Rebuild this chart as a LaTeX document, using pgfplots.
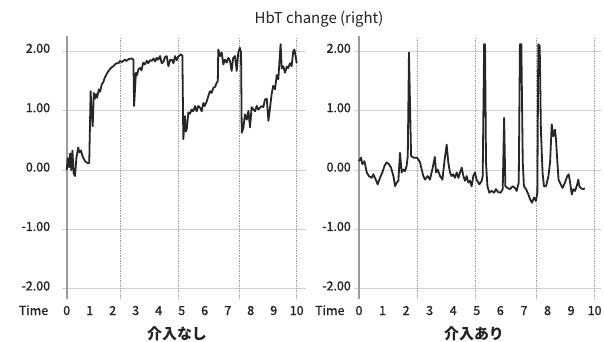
\documentclass[border=0pt]{standalone}
\usepackage{pgfplots}
\pgfplotsset{compat=1.18}
\usepackage{fontspec}
\setmainfont{Noto Sans CJK JP}
\newfontfamily\medfont{Noto Sans CJK JP}[FakeBold=1.2]
\definecolor{txt}{HTML}{222222}
\definecolor{ln}{HTML}{262626}
\definecolor{gridc}{HTML}{D2D2D2}
\definecolor{axc}{HTML}{9A9A9A}
\definecolor{dashc}{HTML}{A0A0A0}
\tikzset{
 vline/.style={dashc, dash pattern=on 1.5bp off 1bp, line width=0.8bp},
 yline/.style={axc, line width=1.8bp},
 curve/.style={ln, line width=1.8bp, line join=round},
}
\pgfplotsset{
 panel/.style={scale only axis, height=262.5bp, ymin=-2.17, ymax=2.25, xmin=-0.2,
   axis line style={draw=none}, tick style={draw=none},
   ytick={-2,-1,0,1,2}, yticklabels={-2.00,-1.00,0.00,1.00,2.00},
   xtick={0,1,2,3,4,5,6,7,8,9,10}, xticklabels={0,1,2,3,4,5,6,7,8,9,10},
   ymajorgrids, major grid style={gridc, line width=0.9bp},
   ticklabel style={font=\medfont\fontsize{12.5}{14}\selectfont, text=txt},
   xticklabel style={anchor=base, yshift=-16bp},
   yticklabel style={anchor=east, yshift=3bp},
   anchor=south west, clip=false},
}
\begin{document}
\begin{tikzpicture}
\path[use as bounding box] (0,0) rectangle (604bp,342bp);
\node[text=txt, font=\fontsize{15}{17}\selectfont] at (319bp,322.5bp) {HbT change (right)};
\node[text=txt, anchor=base east, font=\medfont\fontsize{12.5}{14}\selectfont] at (51.7bp,27bp) {Time};
\node[text=txt, anchor=base east, font=\medfont\fontsize{12.5}{14}\selectfont] at (348bp,27bp) {Time};
\node[text=txt, font=\fontsize{15}{17}\selectfont\bfseries] at (177bp,8bp) {介入なし};
\node[text=txt, font=\fontsize{15}{17}\selectfont\bfseries] at (474bp,8bp) {介入あり};

\begin{axis}[panel, at={(62.1bp,43bp)}, width=243.8bp, xmax=10.4,
  yticklabel style={xshift=-8.5bp}]
\draw[yline] (0,-2.17) -- (0,2.25);
\draw[vline] (2.35,-2.17) -- (2.35,2.25);
\draw[vline] (4.87,-2.17) -- (4.87,2.25);
\draw[vline] (7.49,-2.17) -- (7.49,2.25);
\draw[vline] (10,-2.17) -- (10,2.25);
\addplot[curve] coordinates {
(0.0,0.0) (0.05,0.2) (0.1,0.05) (0.15,0.28) (0.2,0.0) (0.25,0.33) (0.3,-0.05)
(0.36,-0.1) (0.42,0.2) (0.5,0.38) (0.55,0.3) (0.62,0.33) (0.7,0.22) (0.8,0.15)
(0.9,0.12) (0.98,0.12) (1.04,1.33) (1.08,1.0) (1.13,0.74) (1.18,1.3) (1.22,1.2)
(1.28,1.28) (1.32,1.22) (1.4,1.36) (1.45,1.32) (1.52,1.44) (1.59,1.48) (1.66,1.56)
(1.74,1.62) (1.8,1.66) (1.88,1.7) (1.95,1.73) (2.03,1.75) (2.1,1.78) (2.17,1.8)
(2.25,1.8) (2.32,1.84) (2.4,1.82) (2.53,1.86) (2.6,1.84) (2.7,1.87) (2.83,1.88)
(2.9,1.86) (2.93,1.08) (3.01,1.64) (3.06,1.6) (3.12,1.7) (3.19,1.72) (3.25,1.68)
(3.33,1.81) (3.4,1.78) (3.48,1.84) (3.55,1.8) (3.62,1.85) (3.7,1.84) (3.78,1.88)
(3.85,1.83) (3.91,1.89) (3.98,1.86) (4.06,1.92) (4.13,1.8) (4.2,1.82) (4.27,1.9)
(4.35,1.92) (4.42,1.75) (4.5,1.86) (4.57,1.86) (4.64,1.8) (4.71,1.92) (4.78,1.85)
(4.85,1.91) (4.96,1.95) (5.03,1.93) (5.07,0.52) (5.14,0.91) (5.18,0.65) (5.22,0.69)
(5.29,0.97) (5.36,0.95) (5.43,1.02) (5.5,0.99) (5.58,1.08) (5.65,0.99) (5.72,1.08)
(5.8,1.05) (5.87,0.99) (5.94,1.13) (6.0,1.08) (6.09,1.16) (6.16,1.25) (6.23,1.33)
(6.3,1.3) (6.38,1.39) (6.45,1.4) (6.52,1.47) (6.57,1.5) (6.59,2.03) (6.67,1.92)
(6.74,1.98) (6.81,1.78) (6.88,1.86) (6.96,1.81) (7.03,1.89) (7.1,1.84) (7.17,1.67)
(7.24,1.89) (7.32,1.92) (7.39,1.67) (7.46,1.98) (7.53,2.06) (7.58,1.98) (7.61,0.63)
(7.68,0.71) (7.75,0.94) (7.83,0.85) (7.9,1.0) (7.97,0.72) (8.04,1.06) (8.12,1.02)
(8.19,0.99) (8.26,1.08) (8.33,1.02) (8.4,1.05) (8.48,1.08) (8.55,1.06) (8.62,1.19)
(8.7,1.2) (8.77,0.83) (8.84,1.05) (8.91,1.28) (8.98,1.42) (9.06,1.36) (9.13,1.6)
(9.2,1.53) (9.3,2.12) (9.35,1.71) (9.42,1.75) (9.49,1.64) (9.57,1.74) (9.63,1.72)
(9.71,1.8) (9.78,1.75) (9.85,2.0) (9.9,2.03) (9.96,1.9) (10.0,1.8)
};
\end{axis}

\begin{axis}[panel, at={(354.3bp,43bp)}, width=246.2bp, xmax=10.25]
\draw[yline] (0,-2.17) -- (0,2.25);
\draw[vline] (2.46,-2.17) -- (2.46,2.25);
\draw[vline] (4.93,-2.17) -- (4.93,2.25);
\draw[vline] (7.53,-2.17) -- (7.53,2.25);
\draw[vline] (10,-2.17) -- (10,2.25);
\addplot[curve] coordinates {
(0,0.15) (0.085,0.21) (0.14,0.1) (0.23,0.15) (0.33,-0.04) (0.42,-0.1) (0.54,-0.13)
(0.61,-0.07) (0.71,-0.16) (0.79,-0.24) (0.89,-0.13) (0.99,-0.04) (1.08,0.07)
(1.17,0.13) (1.27,0.1) (1.36,0.04) (1.46,-0.1) (1.53,-0.27) (1.6,-0.21) (1.67,-0.18)
(1.74,0.29) (1.81,-0.04) (1.88,0.01) (1.95,-0.02) (2.02,0.07) (2.07,0.24) (2.12,1.98)
(2.21,0.24) (2.31,0.21) (2.45,0.21) (2.52,0.18) (2.59,0.13) (2.66,0.01) (2.73,-0.1)
(2.8,-0.16) (2.91,-0.1) (3.01,-0.16) (3.11,0.01) (3.22,0.22) (3.27,-0.04) (3.34,0.01)
(3.44,-0.1) (3.54,-0.16) (3.62,0.13) (3.72,0.43) (3.79,0.13) (3.86,-0.04) (3.93,-0.1)
(4.0,-0.07) (4.07,-0.13) (4.15,-0.04) (4.22,-0.13) (4.29,-0.04) (4.36,0.04)
(4.43,-0.1) (4.5,-0.18) (4.57,-0.1) (4.64,-0.21) (4.71,-0.18) (4.78,-0.27)
(4.85,-0.1) (4.92,-0.04) (4.99,-0.16) (5.02,-0.18) (5.11,-0.24) (5.21,-0.18)
(5.25,-0.1) (5.31,2.12) (5.35,2.12) (5.39,0.13) (5.45,-0.27) (5.53,-0.38)
(5.63,-0.35) (5.73,-0.38) (5.81,-0.32) (5.91,-0.37) (6.01,-0.38) (6.1,-0.32)
(6.16,0.88) (6.21,-0.27) (6.3,-0.3) (6.41,-0.32) (6.52,-0.27) (6.62,-0.3)
(6.69,-0.35) (6.78,-0.21) (6.83,2.12) (6.89,2.12) (6.95,0.13) (7.0,-0.27)
(7.09,-0.32) (7.19,-0.41) (7.26,-0.49) (7.34,-0.55) (7.43,-0.46) (7.51,-0.52)
(7.57,-0.38) (7.61,2.12) (7.67,2.09) (7.72,0.68) (7.79,-0.04) (7.85,-0.27)
(7.94,-0.27) (8.04,-0.1) (8.11,0.13) (8.18,0.77) (8.25,0.57) (8.32,0.68) (8.36,0.52)
(8.42,0.13) (8.47,-0.16) (8.56,-0.24) (8.64,-0.3) (8.74,-0.21) (8.84,-0.1)
(8.9,-0.07) (8.96,-0.21) (9.03,-0.41) (9.1,-0.32) (9.17,-0.35) (9.24,-0.27)
(9.31,-0.16) (9.35,-0.27) (9.41,-0.3) (9.49,-0.32) (9.59,-0.31)
};
\end{axis}
\end{tikzpicture}
\end{document}
